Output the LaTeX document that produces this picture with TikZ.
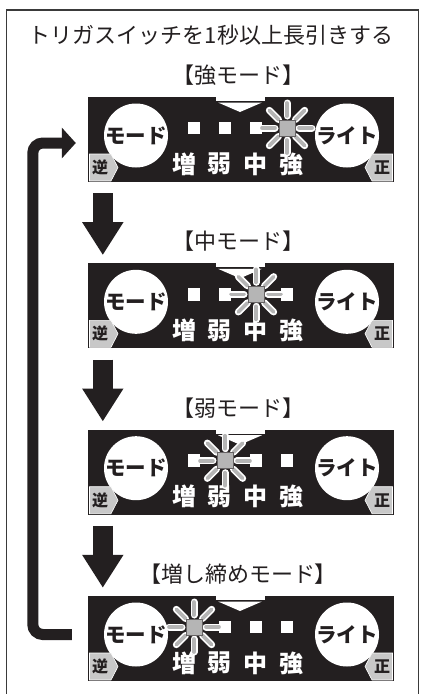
\documentclass[tikz,border=0pt]{standalone}
\usepackage{fontspec}
\newfontfamily\jp{Noto Sans CJK JP}
\usetikzlibrary{arrows.meta,calc}
\definecolor{ink}{HTML}{231F20}
\definecolor{litgray}{HTML}{B5B5B5}
\definecolor{taggray}{HTML}{C8C8C8}
\definecolor{framegray}{HTML}{3A3A3A}

\tikzset{
  panelbox/.style={fill=ink, minimum width=306pt, minimum height=85pt, inner sep=0pt, draw=none},
  lbl/.style={font=\jp\fontsize{22}{24}\selectfont, text=ink, inner sep=0pt},
  knob/.style={circle, fill=white, minimum size=60pt, inner sep=0pt, font=\jp\bfseries\fontsize{20.5}{22}\selectfont, text=ink},
  led/.style={fill=white, minimum size=12.5pt, inner sep=0pt},
  litled/.style={fill=litgray, draw=ink!70, line width=0.6pt, minimum size=16pt, inner sep=0pt},
  lvl/.style={font=\jp\bfseries\fontsize{24}{26}\selectfont, text=white, inner sep=0pt},
  raywhite/.style={white, line width=7pt, line cap=round},
  raygray/.style={litgray, line width=3.6pt, line cap=round},
  tagshape/.style={fill=taggray, draw=white, line width=0.6pt},
  tagtxt/.style={font=\jp\bfseries\fontsize{16}{17}\selectfont, text=ink, inner sep=0pt},
  downarrow/.style={ink, line width=20pt, -{Triangle[length=33pt,width=39pt]}, shorten <=11pt, shorten >=8pt},
  loopar/.style={ink, line width=11pt, rounded corners=10pt, -{Triangle[length=14pt,width=30pt]}},
  framebox/.style={framegray, line width=1.6pt}
}

\newcommand\drawpanel[4]{%
  \node[panelbox] (#1) at (241,#2+42.5) {};
  \node[lbl] (#1-lbl) at (238,#2-22) {#4};
  \fill[white] (216,#2) rectangle (265,#2+4);
  \fill[white] (218,#2+5.5) -- (262,#2+5.5) -- (240,#2+15) -- cycle;
  \node[knob] (#1-mode) at (136,#2+38.5) {モード};
  \node[knob] (#1-light) at (347,#2+38.5) {ライト};
  \foreach \i/\x in {1/194,2/225,3/256,4/287}{%
    \ifnum\i=#3\relax\else\node[led] (#1-led\i) at (\x,#2+31) {};\fi}
  \foreach \i/\x/\t in {1/184/増,2/219/弱,3/255/中,4/291/強}{%
    \node[lvl] (#1-txt\i) at (\x,#2+67) {\t};}
  \pgfmathsetmacro\litx{163+31*#3}
  \foreach \a in {0,45,...,315}{\draw[raywhite] (\litx,#2+31) ++(\a:12) -- ++(\a:13);}
  \foreach \a in {0,45,...,315}{\draw[raygray] (\litx,#2+31) ++(\a:12) -- ++(\a:13);}
  \node[litled] (#1-lit) at (\litx,#2+31) {};
  \draw[tagshape] (89.5,#2+57) -- (111,#2+57) -- (118,#2+70.5) -- (111,#2+84) -- (89.5,#2+84) -- cycle;
  \node[tagtxt] (#1-rev) at (100,#2+70.5) {逆};
  \draw[tagshape] (392.5,#2+57) -- (372,#2+57) -- (365,#2+70.5) -- (372,#2+84) -- (392.5,#2+84) -- cycle;
  \node[tagtxt] (#1-fwd) at (382,#2+70.5) {正};
}

\begin{document}
\begin{tikzpicture}[x=1pt,y=-1pt]
  \useasboundingbox (0,0) rectangle (423,694);
  \clip (0,0) rectangle (423,694);
  \fill[white] (0,0) rectangle (423,694);
  \draw[framebox] (6.5,10) rectangle (418.5,705);
  \node[lbl] (title) at (211,35) {トリガスイッチを1秒以上長引きする};
  \drawpanel{p1}{97}{4}{【強モード】}
  \drawpanel{p2}{263.3}{3}{【中モード】}
  \drawpanel{p3}{429.7}{2}{【弱モード】}
  \drawpanel{p4}{596}{1}{【増し締めモード】}
  \draw[downarrow] ([xshift=15pt]p1.south west) -- ([xshift=15pt]p2.north west);
  \draw[downarrow] ([xshift=15pt]p2.south west) -- ([xshift=15pt]p3.north west);
  \draw[downarrow] ([xshift=15pt]p3.south west) -- ([xshift=15pt]p4.north west);
  \coordinate (ls) at ([xshift=-16pt,yshift=4pt]p4.west);
  \coordinate (le) at ([xshift=-12pt,yshift=-3.5pt]p1.west);
  \draw[loopar] (ls) -- ++(-39,0) |- (le);
\end{tikzpicture}
\end{document}
